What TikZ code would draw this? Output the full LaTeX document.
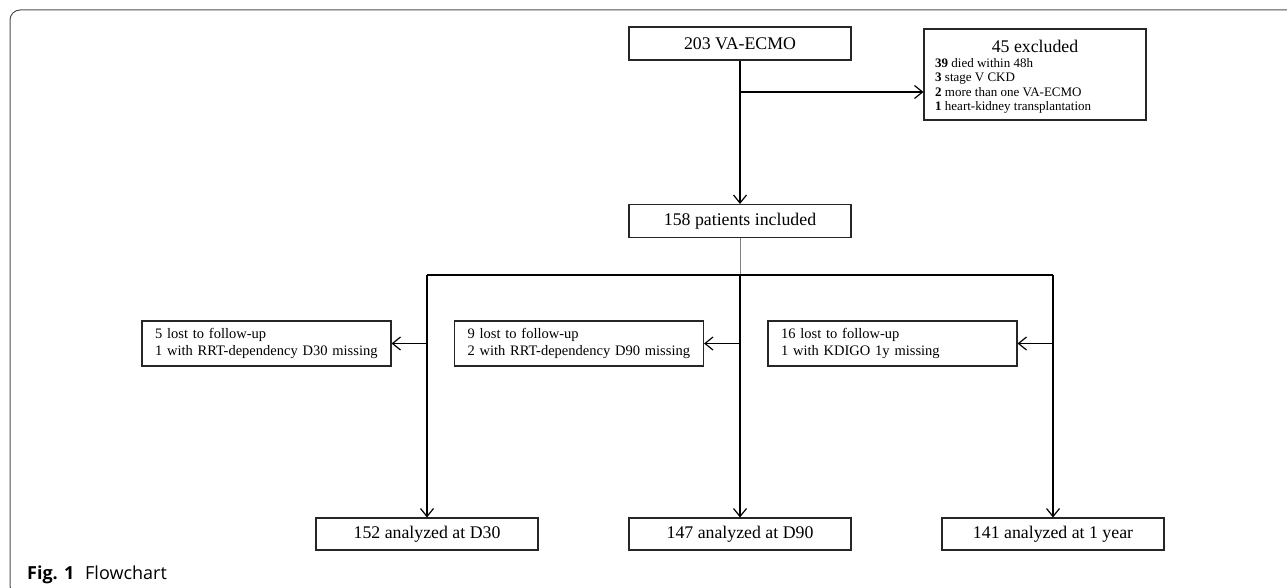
\documentclass[tikz,border=0pt]{standalone}
\usepackage{fontspec}
\setmainfont{Liberation Serif}
\newfontfamily\capfont{Open Sans}
\usetikzlibrary{arrows.meta}
\definecolor{framecol}{RGB}{80,80,80}
\begin{document}
\begin{tikzpicture}[x=1pt,y=-1pt,
  box/.style={draw=black!85, line width=1.1pt, minimum width=222pt, minimum height=33pt, inner sep=0pt, font=\fontsize{17.8}{20}\selectfont},
  lostbox/.style={draw=black!85, line width=1.1pt, minimum width=249pt, minimum height=45pt, text width=223pt, inner xsep=13pt, inner ysep=0pt, align=left, font=\fontsize{14.5}{17}\selectfont},
  conn/.style={line width=1.3pt, black},
  arr/.style={conn, -{Straight Barb[length=8pt,width=13pt,line width=1.2pt]}},
  txt/.style={inner sep=0pt}
]
\useasboundingbox (0,0) rectangle (1287,588);
\clip (0,0) rectangle (1287,588);
\draw[framecol, line width=1pt, rounded corners=10pt] (10,10) rectangle (1330,596);

\node[box] (ecmo) at (740,43.5) {203 VA-ECMO};
\node[box, minimum height=91pt] (excl) at (1035,74.5) {};
\node[txt, font=\fontsize{17.8}{20}\selectfont] (exclt) at (1035,46) {45 excluded};
\node[txt, anchor=west, align=left, font=\fontsize{13}{14.4}\selectfont] (excll) at (935,86)
  {\textbf{39} died within 48h\\ \textbf{3} stage V CKD\\ \textbf{2} more than one VA-ECMO\\ \textbf{1} heart-kidney transplantation};
\node[box] (incl) at (740,221) {158 patients included};

\node[lostbox] (l1) at (266.5,343.5) {5 lost to follow-up\\1 with RRT-dependency D30 missing};
\node[lostbox] (l2) at (579,343.5) {9 lost to follow-up\\2 with RRT-dependency D90 missing};
\node[lostbox] (l3) at (892.5,343.5) {16 lost to follow-up\\1 with KDIGO 1y missing};

\node[box, minimum height=32pt] (a1) at (427,534) {152 analyzed at D30};
\node[box, minimum height=32pt] (a2) at (740,534) {147 analyzed at D90};
\node[box, minimum height=32pt] (a3) at (1053,534) {141 analyzed at 1 year};

\coordinate (j1) at (740,92);
\coordinate (h0) at (740,275);
\coordinate (hL) at (427,275);
\coordinate (hR) at (1053,275);

\draw[arr] (ecmo) -- (incl);
\draw[arr] (j1) -- (j1 -| excl.west);
\draw[gray, line width=1pt] (incl) -- (h0);
\draw[conn] (hL) -- (hR);
\draw[arr] (hL) -- (a1);
\draw[arr] (h0) -- (a2);
\draw[arr] (hR) -- (a3);
\draw[arr] (hL |- l1.east) -- (l1.east);
\draw[arr] (h0 |- l2.east) -- (l2.east);
\draw[arr] (hR |- l3.east) -- (l3.east);

\node[txt, anchor=base west, font=\capfont\fontsize{18}{21}\selectfont] (cap) at (27,579) {\textbf{Fig. 1}\hspace{0.6em}Flowchart};
\end{tikzpicture}
\end{document}
